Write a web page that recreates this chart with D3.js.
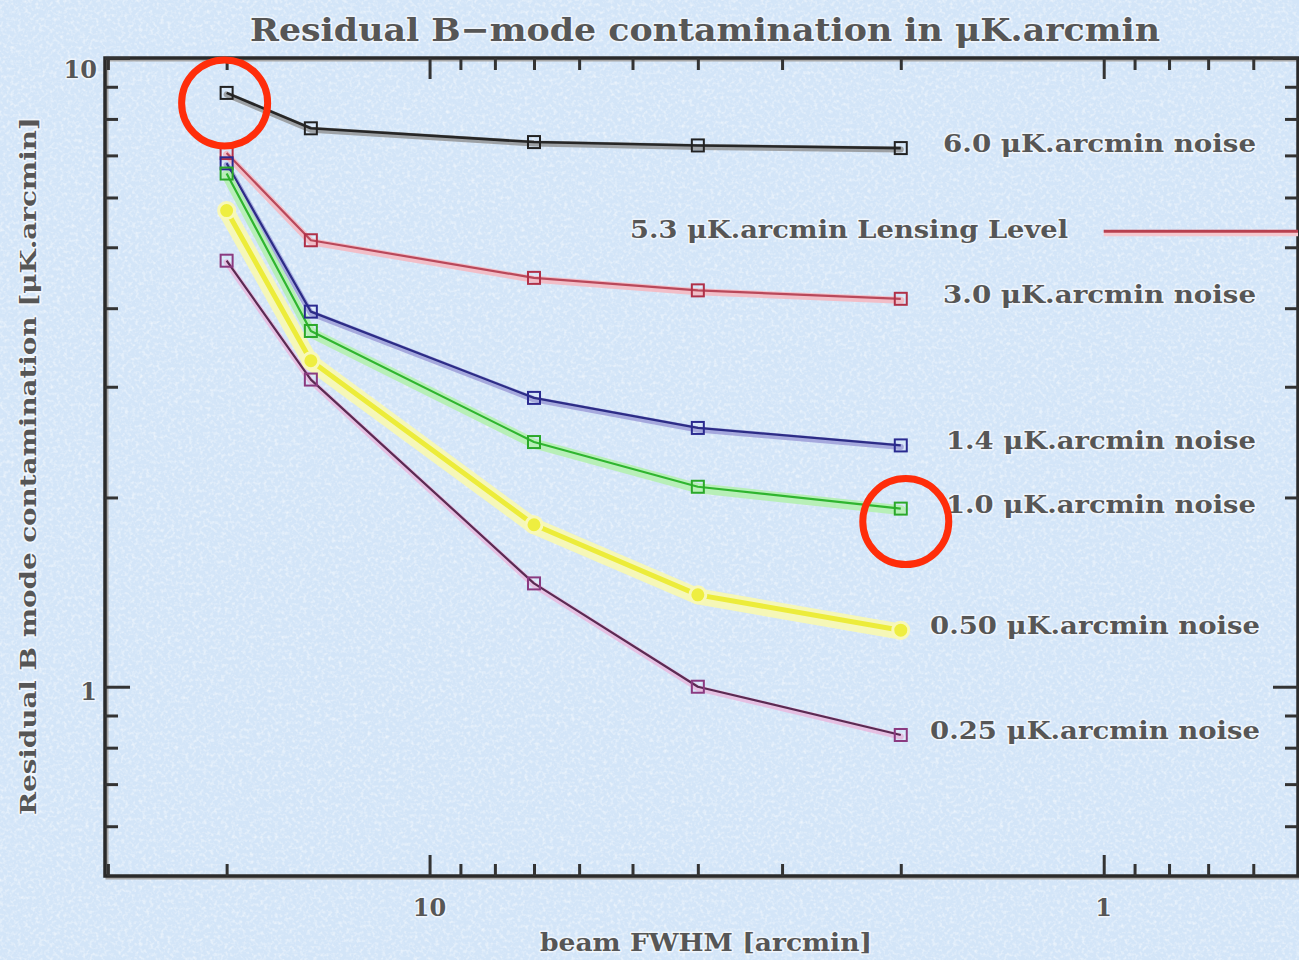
<!DOCTYPE html>
<html>
<head>
<meta charset="utf-8">
<script src="https://cdn.jsdelivr.net/npm/d3@7"></script>
<style>
  html, body { margin: 0; padding: 0; background: #d6e7f8; }
  svg { display: block; }
  text { font-family: "DejaVu Serif", "Liberation Serif", serif; fill: #565656; font-weight: bold; }
</style>
</head>
<body>
<svg id="chart" width="1299" height="960"></svg>
<script>
// ---------------- data ----------------
const beams = [20, 15, 7, 4, 2];                      // beam FWHM [arcmin]
const noise60  = [8.80, 7.73, 7.35, 7.26, 7.19];
const noise30  = [7.06, 5.13, 4.47, 4.27, 4.14];
const noise14  = [6.80, 3.95, 2.88, 2.58, 2.42];
const noise10  = [6.55, 3.68, 2.45, 2.08, 1.92];
const noise050 = [5.72, 3.30, 1.81, 1.40, 1.23];
const noise025 = [4.76, 3.08, 1.46, 1.00, 0.838];
const seriesNames = ["6.0 μK.arcmin noise", "3.0 μK.arcmin noise", "1.4 μK.arcmin noise",
                     "1.0 μK.arcmin noise", "0.50 μK.arcmin noise", "0.25 μK.arcmin noise"];
const lensingLevel = 5.3;
const lensingLabel = "5.3 μK.arcmin Lensing Level";
const xTickLabels = [10, 1];
const yTickLabels = [10, 1];
const xMinorTicks = [30, 20, 9, 8, 7, 6, 5, 4, 3, 2, 0.9, 0.8, 0.7, 0.6];
const yMinorTicks = [9, 8, 7, 6, 5, 4, 3, 2, 0.9, 0.8, 0.7, 0.6];
const titleText = "Residual B−mode contamination in μK.arcmin";
const xLabelText = "beam FWHM [arcmin]";
const yLabelText = "Residual B mode contamination [μK.arcmin]";

// ---------------- styles ----------------
const styles = [
  { core: "#262626", halo: "#8a8a8a", hw: 6, cw: 2.6, hOp: 0.75, mk: "#222" , tl: 313, tx: 943},
  { core: "#b9485a", halo: "#f4b9c2", hw: 7, cw: 2.2, hOp: 0.9,  mk: "#b03048", tl: 313, tx: 943},
  { core: "#2c2c86", halo: "#9898d6", hw: 6, cw: 2.2, hOp: 0.8,  mk: "#2a2a90", tl: 310, tx: 946},
  { core: "#2fb52f", halo: "#b4f0b0", hw: 10, cw: 2.2, hOp: 0.9, mk: "#2aa82a", tl: 310, tx: 946},
  { core: "#ecec3a", halo: "#f8f8b0", hw: 16, cw: 5,  hOp: 0.9,  mk: "#e6e630", tl: 330, tx: 930},
  { core: "#5a2a52", halo: "#e8b8de", hw: 6, cw: 2.2, hOp: 0.85, mk: "#8a3a80", tl: 330, tx: 930}
];
const allSeries = [noise60, noise30, noise14, noise10, noise050, noise025];

const svg = d3.select("#chart");
const W = 1299, H = 960;
const L = 105, R = 1298, T = 58, B = 876;

// background with paper-like speckle
const defs = svg.append("defs");
const f = defs.append("filter").attr("id", "paper").attr("x", 0).attr("y", 0).attr("width", 1).attr("height", 1);
f.append("feTurbulence").attr("type", "fractalNoise").attr("baseFrequency", 0.28).attr("numOctaves", 2).attr("seed", 7);
f.append("feColorMatrix").attr("type", "matrix")
  .attr("values", "0 0 0 0 1  0 0 0 0 1  0 0 0 0 1  2.2 0 0 0 -1.0");
svg.append("rect").attr("width", W).attr("height", H).attr("fill", "#d3e5f8");
svg.append("rect").attr("width", W).attr("height", H).attr("filter", "url(#paper)").attr("opacity", 0.6);

// scales (log, x reversed)
const x = d3.scaleLog().domain([30.3, 0.515]).range([L, R]);
const y = d3.scaleLog().domain([0.5, 10]).range([B, T]);

// ---------------- axes ----------------
const axG = svg.append("g");
axG.append("rect").attr("x", L + 2).attr("y", T + 2).attr("width", R - L).attr("height", B - T)
  .attr("fill", "none").attr("stroke", "#a8a8a8").attr("stroke-width", 3);
axG.append("rect").attr("x", L).attr("y", T).attr("width", R - L).attr("height", B - T)
  .attr("fill", "none").attr("stroke", "#2a2a2a").attr("stroke-width", 3.5);

function tickSet(g, axisGen, vals, len) {
  g.call(axisGen.tickValues(vals).tickSize(len).tickFormat(""));
  g.select(".domain").remove();
  g.selectAll(".tick line").attr("stroke", "#333").attr("stroke-width", 3);
}
tickSet(axG.append("g").attr("transform", `translate(0,${B})`), d3.axisBottom(x), xTickLabels, -21);
tickSet(axG.append("g").attr("transform", `translate(0,${B})`), d3.axisBottom(x), xMinorTicks, -12);
tickSet(axG.append("g").attr("transform", `translate(0,${T})`), d3.axisTop(x), xTickLabels, -21);
tickSet(axG.append("g").attr("transform", `translate(0,${T})`), d3.axisTop(x), xMinorTicks, -12);
tickSet(axG.append("g").attr("transform", `translate(${L},0)`), d3.axisLeft(y), yTickLabels, -25);
tickSet(axG.append("g").attr("transform", `translate(${L},0)`), d3.axisLeft(y), yMinorTicks, -13);
tickSet(axG.append("g").attr("transform", `translate(${R},0)`), d3.axisRight(y), yTickLabels, -25);
tickSet(axG.append("g").attr("transform", `translate(${R},0)`), d3.axisRight(y), yMinorTicks, -13);

function halo(sel) {
  return sel.attr("stroke", "rgba(255,255,255,0.6)").attr("stroke-width", 3)
            .attr("paint-order", "stroke").attr("stroke-linejoin", "round");
}
xTickLabels.forEach(v => {
  halo(svg.append("text").attr("x", x(v)).attr("y", 916).attr("text-anchor", "middle")
    .attr("font-size", 24).text(v));
});
yTickLabels.forEach(v => {
  halo(svg.append("text").attr("x", 97).attr("y", y(v) + (v === 10 ? 20 : 13)).attr("text-anchor", "end")
    .attr("font-size", 24).text(v));
});

halo(svg.append("text").attr("x", 250).attr("y", 41).attr("font-size", 32)
  .attr("textLength", 910).attr("lengthAdjust", "spacingAndGlyphs").text(titleText));
halo(svg.append("text").attr("x", 540).attr("y", 951).attr("font-size", 24)
  .attr("textLength", 332).attr("lengthAdjust", "spacingAndGlyphs").text(xLabelText));
halo(svg.append("text").attr("transform", "translate(36,815) rotate(-90)").attr("font-size", 22)
  .attr("textLength", 698).attr("lengthAdjust", "spacingAndGlyphs").text(yLabelText));

// ---------------- series ----------------
const line = d3.line().x(d => x(d[0])).y(d => y(d[1]));
const plotG = svg.append("g");
allSeries.forEach((vals, i) => {
  const st = styles[i];
  const pts = beams.map((b, j) => [b, vals[j]]);
  plotG.append("path").attr("d", line(pts)).attr("fill", "none")
    .attr("stroke", st.halo).attr("stroke-width", st.hw).attr("stroke-opacity", st.hOp)
    .attr("stroke-linejoin", "round").attr("stroke-linecap", "round")
    .attr("transform", "translate(0,1.5)");
  plotG.append("path").attr("d", line(pts)).attr("fill", "none")
    .attr("stroke", st.core).attr("stroke-width", st.cw).attr("stroke-linejoin", "round");
});
allSeries.forEach((vals, i) => {
  const st = styles[i];
  const pts = beams.map((b, j) => [b, vals[j]]);
  if (i === 4) {
    plotG.selectAll(null).data(pts).enter().append("circle")
      .attr("cx", d => x(d[0])).attr("cy", d => y(d[1])).attr("r", 8)
      .attr("fill", "#eeee40").attr("stroke", "#f8f8b8").attr("stroke-width", 3);
  } else {
    plotG.selectAll(null).data(pts).enter().append("rect")
      .attr("x", d => x(d[0]) - 6).attr("y", d => y(d[1]) - 6).attr("width", 12).attr("height", 12)
      .attr("fill", "none").attr("stroke", st.mk).attr("stroke-width", 2);
  }
  const last = pts[pts.length - 1];
  halo(svg.append("text").attr("x", st.tx).attr("y", y(last[1]) + 4)
    .attr("font-size", 25).attr("textLength", st.tl).attr("lengthAdjust", "spacingAndGlyphs")
    .text(seriesNames[i]));
});

// lensing level line
svg.append("line").attr("x1", x(1)).attr("x2", R).attr("y1", y(lensingLevel) + 2).attr("y2", y(lensingLevel) + 2)
  .attr("stroke", "#f6c8cf").attr("stroke-width", 6);
svg.append("line").attr("x1", x(1)).attr("x2", R).attr("y1", y(lensingLevel)).attr("y2", y(lensingLevel))
  .attr("stroke", "#b8404f").attr("stroke-width", 3);
halo(svg.append("text").attr("x", 630).attr("y", y(lensingLevel) + 7).attr("font-size", 25)
  .attr("textLength", 438).attr("lengthAdjust", "spacingAndGlyphs").text(lensingLabel));

// annotation circles
const ann = [[beams[0], noise60[0], -2, 10], [beams[4], noise10[4], 5, 13]];
ann.forEach(a => {
  svg.append("circle").attr("cx", x(a[0]) + a[2]).attr("cy", y(a[1]) + a[3]).attr("r", 43)
    .attr("fill", "none").attr("stroke", "#ff2d0a").attr("stroke-width", 7);
});
</script>
</body>
</html>
